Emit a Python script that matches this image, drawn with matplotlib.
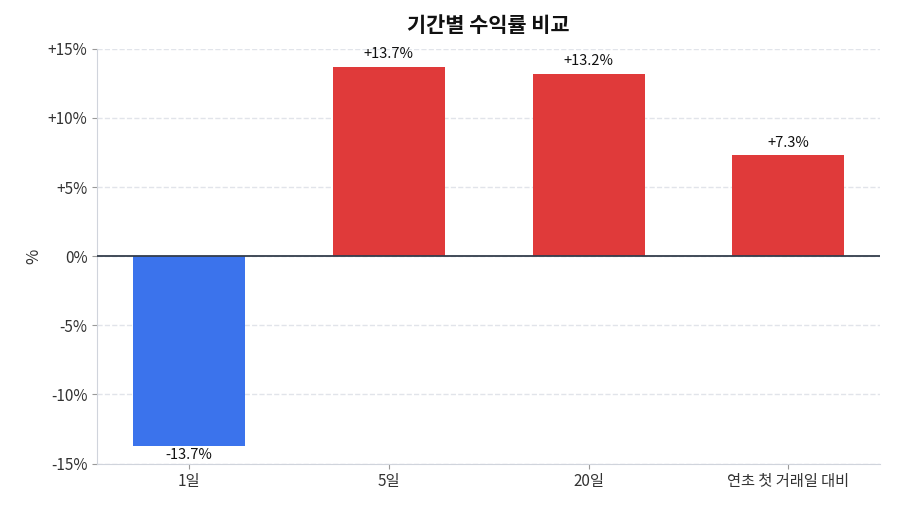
import matplotlib
matplotlib.use("Agg")
import matplotlib.pyplot as plt

plt.rcParams['font.family'] = ['Noto Sans CJK KR', 'DejaVu Sans']

categories = ['1일', '5일', '20일', '연초 첫 거래일 대비']
values = [-13.7, 13.7, 13.2, 7.3]
labels = ['-13.7%', '+13.7%', '+13.2%', '+7.3%']
yticks = [-15, -10, -5, 0, 5, 10, 15]
yticklabels = ['-15%', '-10%', '-5%', '0%', '+5%', '+10%', '+15%']

fig, ax = plt.subplots(figsize=(9, 5.14), dpi=100)
fig.subplots_adjust(left=0.108, right=0.978, top=0.905, bottom=0.098)
colors = ['#3b73ec' if v < 0 else '#e03a3a' for v in values]
x = range(len(categories))
ax.bar(x, values, width=0.56, color=colors, zorder=3)
for i, (v, t) in enumerate(zip(values, labels)):
    if v >= 0:
        ax.text(i, v + 0.4, t, ha='center', va='bottom', fontsize=10.5, color='#111')
    else:
        ax.text(i, v - 0.2, t, ha='center', va='top', fontsize=10.5, color='#111')
ax.axhline(0, color='#333d4b', lw=1.3, zorder=4)
ax.set_ylim(-15, 15)
ax.set_xlim(-0.46, 3.46)
ax.set_yticks(yticks)
ax.set_yticklabels(yticklabels, fontsize=11, color='#333')
ax.set_xticks(list(x))
ax.set_xticklabels(categories, fontsize=11, color='#333')
ax.set_ylabel('%', fontsize=12, color='#333')
ax.yaxis.grid(True, ls='--', color='#e1e4ea', lw=1, zorder=0)
for s in ['top', 'right']:
    ax.spines[s].set_visible(False)
for s in ['left', 'bottom']:
    ax.spines[s].set_color('#d0d4dc')
ax.tick_params(colors='#999', labelcolor='#333')
ax.set_title('기간별 수익률 비교', fontsize=15, fontweight='bold', color='#111', pad=12)
fig.savefig('out.png')
